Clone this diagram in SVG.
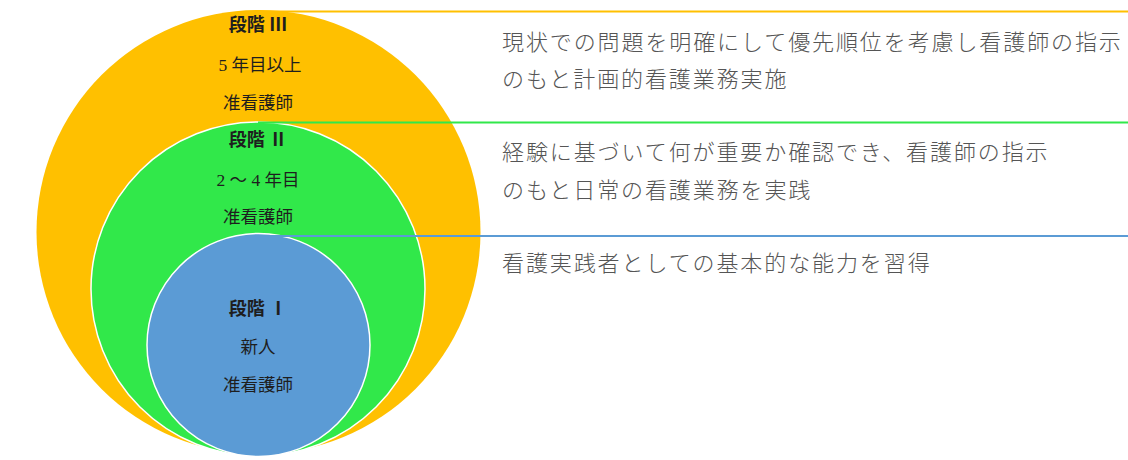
<svg xmlns="http://www.w3.org/2000/svg" width="1128" height="460" viewBox="0 0 1128 460">
<style>
.lbl{font-family:"Liberation Serif","Noto Sans CJK JP",serif;font-size:17.5px;fill:#1e1e1e;text-anchor:middle}
.ttl{font-weight:bold;font-size:18px}
.desc{font-family:"Noto Sans CJK JP",sans-serif;font-size:22px;font-weight:300;fill:#555;letter-spacing:1.9px}
</style>
<rect width="1128" height="460" fill="#fff"/>
<g id="stage3">
<circle cx="258.5" cy="232" r="222" fill="#FFC000"/>
</g>
<g id="stage2">
<circle cx="258" cy="289" r="167" fill="#31E84A" stroke="#fff" stroke-width="1.5"/>
</g>
<g id="stage1">
<circle cx="258.5" cy="345" r="111.5" fill="#5B9BD5" stroke="#fff" stroke-width="1.5"/>
</g>
<g id="connectors" stroke-width="2">
<line x1="258" y1="11.5" x2="1128" y2="11.5" stroke="#FFC000"/>
<line x1="258" y1="122.5" x2="1128" y2="122.5" stroke="#31E84A"/>
<line x1="258" y1="236" x2="1128" y2="236" stroke="#5B9BD5"/>
</g>
<g id="labels3">
<text class="lbl ttl" x="258" y="31">段階 Ⅲ</text>
<text class="lbl" x="260" y="71">5 年目以上</text>
<text class="lbl" x="258" y="109">准看護師</text>
</g>
<g id="labels2">
<text class="lbl ttl" x="258" y="146">段階 Ⅱ</text>
<text class="lbl" x="258" y="186">2 ～ 4 年目</text>
<text class="lbl" x="258" y="223">准看護師</text>
</g>
<g id="labels1">
<text class="lbl ttl" x="258" y="315">段階 Ⅰ</text>
<text class="lbl" x="258" y="353">新人</text>
<text class="lbl" x="258" y="391">准看護師</text>
</g>
<g id="descriptions">
<text class="desc" x="502" y="50">現状での問題を明確にして優先順位を考慮し看護師の指示</text>
<text class="desc" x="502" y="87">のもと計画的看護業務実施</text>
<text class="desc" x="502" y="160">経験に基づいて何が重要か確認でき、看護師の指示</text>
<text class="desc" x="502" y="198">のもと日常の看護業務を実践</text>
<text class="desc" x="502" y="271">看護実践者としての基本的な能力を習得</text>
</g>
</svg>
